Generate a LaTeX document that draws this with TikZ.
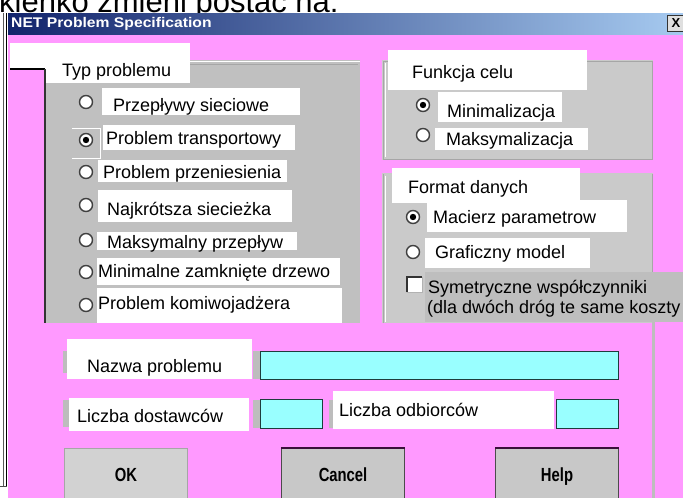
\documentclass[tikz,border=0pt]{standalone}
\usepackage{graphicx}
\usepackage{fontspec}
\setmainfont{Liberation Sans}
\definecolor{pinkbg}{HTML}{FF99FF}
\definecolor{panelL}{HTML}{C0C0C0}
\definecolor{panelR}{HTML}{CACACA}
\definecolor{fieldc}{HTML}{99FFFF}
\definecolor{fieldb}{HTML}{1E3C3C}
\definecolor{tbL}{HTML}{12246C}
\definecolor{tbM}{HTML}{5A6CC0}
\definecolor{tbR}{HTML}{A6CAF0}
\definecolor{edgec}{HTML}{BDBDBD}
\definecolor{txtbg}{HTML}{BEBEBE}
\definecolor{btnc}{HTML}{C8C8C8}
\definecolor{okc}{HTML}{D2D2D2}
\definecolor{btntop}{HTML}{3A103A}
\begin{document}
\begin{tikzpicture}[x=1pt,y=-1pt,
  lbl/.style={anchor=base west,inner sep=0pt,font=\fontsize{18}{20}\selectfont},
  radio/.style={circle,fill=white,draw=gray!50!black,line width=1.4,minimum size=13pt,inner sep=0pt},
  radioon/.style={radio,path picture={\fill[black] (path picture bounding box.center) circle (3.2pt);}},
  field/.style={anchor=north west,fill=fieldc,draw=fieldb,line width=1.4,inner sep=0pt},
  btnbox/.style={anchor=north west,fill=btnc,draw=black!70,line width=1.1,minimum width=123pt,minimum height=52pt,inner sep=0pt,
     text height=14pt,text depth=0pt,font=\fontsize{19}{19}\selectfont\bfseries},
  okbox/.style={btnbox,fill=okc,draw=gray!70},
  wbox/.style={fill=white},
  edgebar/.style={fill=edgec}
]
\useasboundingbox (0,0) rectangle (683,498);
\clip (0,0) rectangle (683,498);
\fill[white] (0,0) rectangle (683,498);

% cut heading line
\node[anchor=base west,inner sep=0pt,font=\fontsize{31}{33}\selectfont] (head) at (-1,12) {kienko zmieni postać na:};

% window frame
\draw[line width=1.2,gray!70!black] (3.5,13) -- (3.5,486);
\draw[line width=1,black] (6.5,13) -- (6.5,486);
\draw[line width=1,gray!60!black] (0,486) -- (7,486);

% title bar
\shade[left color=tbL,middle color=tbM,right color=tbR] (8,13) rectangle (683,35);
\node[anchor=west,inner sep=0pt,text=white,font=\fontsize{14}{16}\selectfont\bfseries] (title) at (11,23.5) {\scalebox{1.12}[1]{NET Problem Specification}};
\node[fill=gray!25,draw=gray!40!black,line width=0.8,minimum width=17pt,minimum height=16pt,inner sep=0pt,font=\fontsize{13}{13}\selectfont\bfseries] (close) at (676,23) {X};

% dialog background
\fill[pinkbg] (8,35) rectangle (683,498);

% ---- Typ problemu panel
\fill[panelL] (45,60) rectangle (360,323);
\draw[white,line width=1] (190,61) -- (360,61);
\draw[gray!70,line width=1] (190,64) -- (358,64);
\fill[wbox] (10,43) rectangle (190,69);
\fill[wbox] (45,43) rectangle (190,83);
\draw[black,line width=1.2] (10,69) -- (45,69);
\draw[gray!40!black,line width=1.2] (45,69) -- (45,323);
\node[lbl] (typ) at (62,76) {Typ problemu};

\fill[wbox] (102,88) rectangle (300,115);
\fill[wbox] (103,125) rectangle (295,150);
\fill[wbox] (98,160) rectangle (287,182);
\fill[wbox] (98,190) rectangle (292,222);
\fill[wbox] (97,232) rectangle (297,250);
\fill[wbox] (97,258) rectangle (340,285);
\fill[wbox] (97,288) rectangle (342,323);
\draw[white,line width=0.8] (72,128) -- (100,128) -- (100,158) -- (72,158);

\node[radio]   (r1) at (86,102) {};
\node[radioon] (r2) at (86,140) {};
\node[radio]   (r3) at (86,172) {};
\node[radio]   (r4) at (86,205) {};
\node[radio]   (r5) at (86,240) {};
\node[radio]   (r6) at (86,272) {};
\node[radio]   (r7) at (86,305) {};
\node[lbl] (t1) at (113,111) {Przepływy sieciowe};
\node[lbl] (t2) at (106,144) {Problem transportowy};
\node[lbl] (t3) at (103,178) {Problem przeniesienia};
\node[lbl] (t4) at (107,215) {Najkrótsza siecieżka};
\node[lbl] (t5) at (107,248) {Maksymalny przepływ};
\node[lbl] (t6) at (98,277) {Minimalne zamknięte drzewo};
\node[lbl] (t7) at (98,309) {Problem komiwojadżera};

% ---- Funkcja celu panel
\fill[panelR] (382,60) rectangle (653,160);
\draw[gray!70,line width=1] (383,61) -- (383,159) -- (652,159) -- (652,61) -- cycle;
\draw[white,line width=0.8] (385,63) -- (385,157);
\fill[wbox] (388,50) rectangle (587,90);
\node[lbl] (fc) at (412,78) {Funkcja celu};
\fill[wbox] (438,92) rectangle (562,122);
\fill[wbox] (435,128) rectangle (588,150);
\node[radioon] (f1) at (423,105) {};
\node[radio]   (f2) at (423,135) {};
\node[lbl] (ft1) at (447,117) {Minimalizacja};
\node[lbl] (ft2) at (446,145) {Maksymalizacja};

% ---- Format danych panel
\fill[panelR] (382,173) rectangle (653,323);
\draw[gray!70,line width=1] (383,174) -- (383,323);
\draw[gray!70,line width=1] (652,174) -- (652,272);
\draw[white,line width=0.8] (385,176) -- (385,322);
\fill[wbox] (392,168) rectangle (580,203);
\node[lbl] (fd) at (408,193) {Format danych};
\fill[wbox] (427,200) rectangle (627,232);
\fill[wbox] (425,238) rectangle (590,268);
\node[radioon] (d1) at (413,217) {};
\node[radio]   (d2) at (413,252) {};
\node[lbl] (dt1) at (433,223) {Macierz parametrow};
\node[lbl] (dt2) at (435,258) {Graficzny model};
\fill[txtbg] (425,272) rectangle (683,322);
\node[fill=white,minimum size=15pt,inner sep=0pt,anchor=north west] (chk) at (407,277) {};
\draw[gray!40!black,line width=1.4] (chk.south west) -- (chk.north west) -- (chk.north east);
\draw[gray!60,line width=0.8] (chk.north east) -- (chk.south east) -- (chk.south west);
\node[lbl] (sym1) at (428,293) {Symetryczne współczynniki};
\node[lbl] (sym2) at (427,313) {(dla dwóch dróg te same koszty};

% right strip line
\draw[edgec,line width=3] (653.5,322) -- (653.5,498);

% ---- bottom fields
\fill[edgebar] (63,351) rectangle (67,373);
\fill[edgebar] (63,400) rectangle (69,427);
\fill[edgebar] (253,351) rectangle (260,379);
\fill[edgebar] (253,400) rectangle (260,428);
\fill[edgebar] (329,400) rectangle (333,428);
\fill[wbox] (67,339) rectangle (252,379);
\node[lbl] (nazwa) at (87,372.5) {Nazwa problemu};
\node[field,minimum width=358pt,minimum height=28pt] (nazwaf) at (260,351) {};
\fill[wbox] (69,398) rectangle (249,431);
\node[lbl] (dost) at (77,422.5) {Liczba dostawców};
\node[field,minimum width=62pt,minimum height=29pt] (dostf) at (260,399) {};
\fill[wbox] (333,391) rectangle (554,429);
\node[lbl] (odb) at (339,416) {Liczba odbiorców};
\node[field,minimum width=62pt,minimum height=29pt] (odbf) at (556,399) {};

% ---- buttons
\node[okbox] (ok) at (64,448) {\scalebox{0.78}[1]{OK}};
\node[btnbox] (cancel) at (281,448) {\scalebox{0.78}[1]{Cancel}};
\node[btnbox] (help) at (495,448) {\scalebox{0.78}[1]{Help}};
\draw[btntop,line width=2.5] (cancel.north west) -- (cancel.north east);
\draw[btntop,line width=2.5] (help.north west) -- (help.north east);
\end{tikzpicture}
\end{document}
